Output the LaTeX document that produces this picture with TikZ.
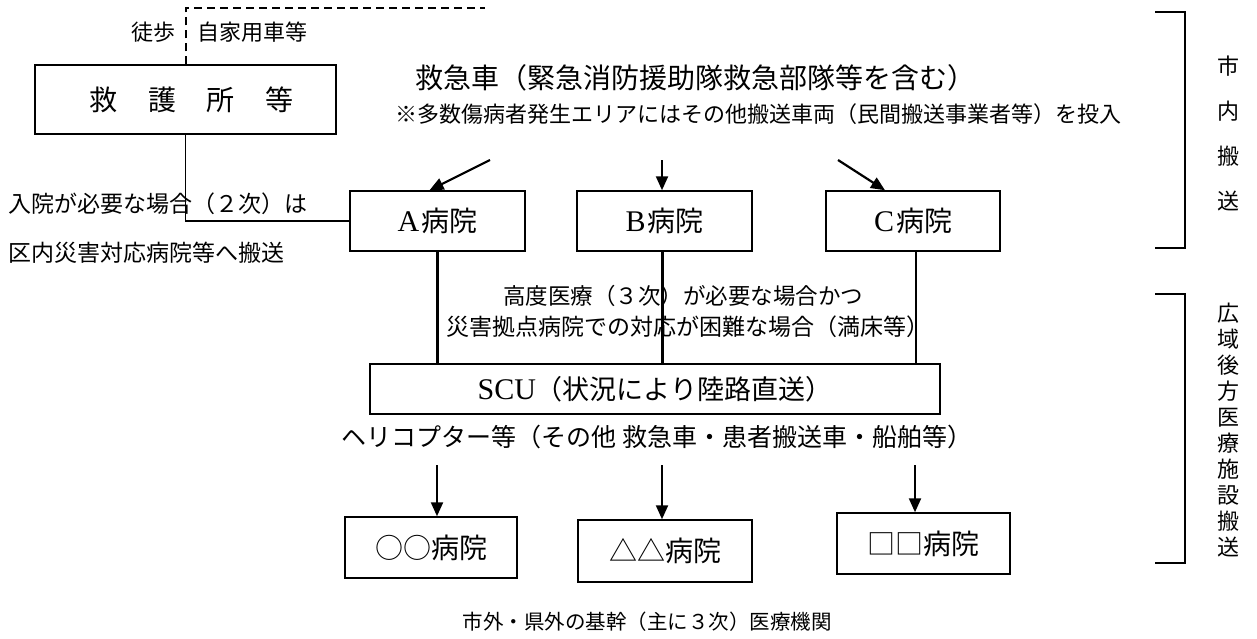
\documentclass[tikz,border=0pt]{standalone}
\usepackage{fontspec}
\setmainfont{Noto Sans CJK JP}
\newfontfamily\lat{Liberation Serif}
\usetikzlibrary{arrows.meta}
\begin{document}
\begin{tikzpicture}[x=1pt,y=-1pt,
  box/.style={draw,line width=1.5pt,inner sep=0pt,font=\fontsize{28}{32}\selectfont},
  conn/.style={line width=2.2pt},
  thinconn/.style={line width=1.1pt},
  arr/.style={line width=2.2pt,-{Triangle[length=14pt,width=12pt]}},
  note/.style={inner sep=0pt,font=\fontsize{22}{26}\selectfont},
  big/.style={inner sep=0pt,font=\fontsize{28}{32}\selectfont},
  brace/.style={line width=1.5pt},
  dashline/.style={line width=2pt,dash pattern=on 8pt off 5pt}]
\useasboundingbox (0,0) rectangle (1257,638);

% boxes
\node[box,minimum width=301pt,minimum height=69pt] (kyugo) at (185.5,99.5) {\hspace{12pt}救\hspace{1.1em}護\hspace{1.1em}所\hspace{1.1em}等};
\node[box,minimum width=175pt,minimum height=60pt] (A) at (437.5,221) {{\lat\fontsize{30}{32}\selectfont A}\hspace{2pt}病院};
\node[box,minimum width=175pt,minimum height=60pt] (B) at (664.5,221) {{\lat\fontsize{30}{32}\selectfont B}\hspace{2pt}病院};
\node[box,minimum width=174pt,minimum height=60pt] (C) at (913,221) {{\lat\fontsize{30}{32}\selectfont C}\hspace{2pt}病院};
\node[box,minimum width=570pt,minimum height=50pt,font=\fontsize{27}{30}\selectfont] (SCU) at (655,389) {{\lat\fontsize{30}{32}\selectfont SCU}（状況により陸路直送）\hspace{44pt}};
\node[box,minimum width=172pt,minimum height=61pt] (O) at (431,547.5) {○○病院};
\node[box,minimum width=174pt,minimum height=62pt] (T) at (665,551) {△△病院};
\node[box,minimum width=173pt,minimum height=61pt] (S) at (923.5,543.5) {□□病院};

% texts
\node[note] (toho) at (153,32) {徒歩};
\node[note,anchor=west] (jika) at (197,32) {自家用車等};
\node[big] (kyukyu) at (695,78) {救急車（緊急消防援助隊救急部隊等を含む）};
\node[note] (tasu) at (758,114) {※多数傷病者発生エリアにはその他搬送車両（民間搬送事業者等）を投入};
\node[note,anchor=west,font=\fontsize{23}{26}\selectfont] (nyuin) at (8,204) {入院が必要な場合（２次）は};
\node[note,anchor=west,font=\fontsize{23}{26}\selectfont] (kunai) at (8,253) {区内災害対応病院等へ搬送};
\node[note,font=\fontsize{22.5}{26}\selectfont] (kodo) at (683,296) {高度医療（３次）が必要な場合かつ};
\node[note,font=\fontsize{23}{26}\selectfont] (saigai) at (688,327) {災害拠点病院での対応が困難な場合（満床等）};
\node[note,font=\fontsize{25}{28}\selectfont] (heli) at (657,437) {ヘリコプター等（その他 救急車・患者搬送車・船舶等）};
\node[note,font=\fontsize{20.5}{26}\selectfont] (shigai) at (647,622) {市外・県外の基幹（主に３次）医療機関};
\node[note,align=center,font=\fontsize{22}{45}\selectfont] (shinai) at (1228,133) {市\\内\\搬\\送};
\node[note,align=center,font=\fontsize{22}{26}\selectfont] (koiki) at (1228,430) {広\\域\\後\\方\\医\\療\\施\\設\\搬\\送};

% connectors
\coordinate (dend) at (485,8);
\draw[dashline] (kyugo.north) |- (dend);
\draw[thinconn] (kyugo.south) |- (A.west);

\coordinate (a0) at (490,160);
\coordinate (b0) at (662,160);
\coordinate (c0) at (838,160);
\draw[arr] (a0) -- ([xshift=-8pt]A.north);
\draw[arr] (b0) -- (b0 |- B.north);
\draw[arr] (c0) -- ([xshift=-28pt]C.north);

\draw[conn] (A.south) -- (A.south |- SCU.north);
\draw[conn] ([xshift=-2pt]B.south) -- ([xshift=-2pt]B.south |- SCU.north);
\draw[conn] ([xshift=3pt]C.south) -- ([xshift=3pt]C.south |- SCU.north);

\coordinate (o0) at (437,465);
\coordinate (t0) at (662,465);
\coordinate (s0) at (915,465);
\draw[arr] (o0) -- (o0 |- O.north);
\draw[arr] (t0) -- (t0 |- T.north);
\draw[arr] (s0) -- (s0 |- S.north);

% brackets
\coordinate (br1a) at (1155,12);
\coordinate (br1b) at (1185,248);
\coordinate (br2a) at (1155,294);
\coordinate (br2b) at (1185,563);
\draw[brace] (br1a) -| (br1b) -- (br1a |- br1b);
\draw[brace] (br2a) -| (br2b) -- (br2a |- br2b);
\end{tikzpicture}
\end{document}
